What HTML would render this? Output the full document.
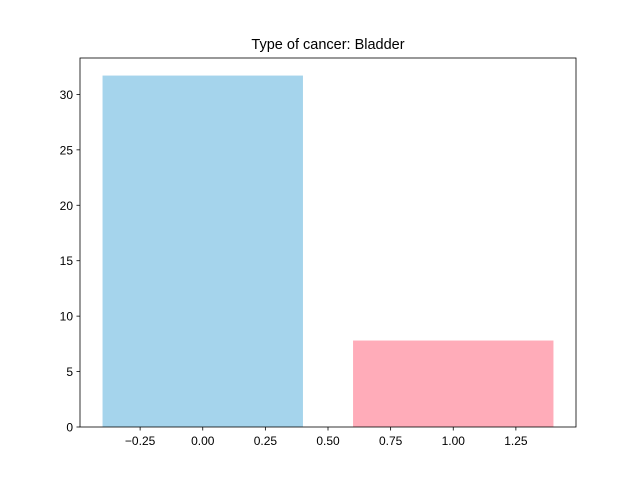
<!DOCTYPE html>
<html><head><meta charset="utf-8"><style>
body{margin:0;background:#fff}
svg{display:block;font-family:"Liberation Sans","DejaVu Sans",sans-serif}
</style></head><body>
<svg id="chart" width="640" height="480">
<rect width="640" height="480" fill="#fff"/>
<text x="328" y="49" text-anchor="middle" font-size="14.5">Type of cancer: Bladder</text>
<g id="bars"></g>
<g id="axes"></g>
</svg>
<script>
const categories = [0, 1];
const values = [31.7, 7.8];
const colors = ['#a5d4ec', '#ffacb9'];
const xTicks = [-0.25, 0, 0.25, 0.5, 0.75, 1, 1.25];
const xTickLabels = ['−0.25','0.00','0.25','0.50','0.75','1.00','1.25'];
const yTicks = [0,5,10,15,20,25,30];

const L=80,R=576,T=58,B=427,barW=0.8;
const xmin=-0.4-0.09, xmax=1.4+0.09;
const ymax=Math.max(...values)*1.05;
const xs=v=>L+(v-xmin)/(xmax-xmin)*(R-L);
const ys=v=>B-v/ymax*(B-T);
const NS='http://www.w3.org/2000/svg';
const bars=document.getElementById('bars'), axes=document.getElementById('axes');
function mk(tag,attrs,parent){const e=document.createElementNS(NS,tag);for(const k in attrs)e.setAttribute(k,attrs[k]);parent.appendChild(e);return e;}
categories.forEach((c,i)=>{
  const r=mk('rect',{x:xs(c-barW/2),y:ys(values[i]),width:xs(c+barW/2)-xs(c-barW/2),height:B-ys(values[i]),fill:colors[i]},bars);
  
  
});
const frame=mk('rect',{x:L,y:T,width:R-L,height:B-T,fill:'none',stroke:'#000','stroke-width':0.8},axes);


xTicks.forEach((t,i)=>{
  const x=xs(t);
  const l=mk('line',{x1:x,x2:x,y1:B,y2:B+3.5,stroke:'#000','stroke-width':0.8},axes);
  
  
  const tx=mk('text',{x:x,y:B+18,'text-anchor':'middle','font-size':'12'},axes);
  tx.textContent=xTickLabels[i];
  
  
});
yTicks.forEach(t=>{
  const y=ys(t);
  const l=mk('line',{x1:L-3.5,x2:L,y1:y,y2:y,stroke:'#000','stroke-width':0.8},axes);
  
  
  const tx=mk('text',{x:L-7,y:y+4.5,'text-anchor':'end','font-size':'12'},axes);
  tx.textContent=String(t);
  
  
});
</script>
</body></html>
